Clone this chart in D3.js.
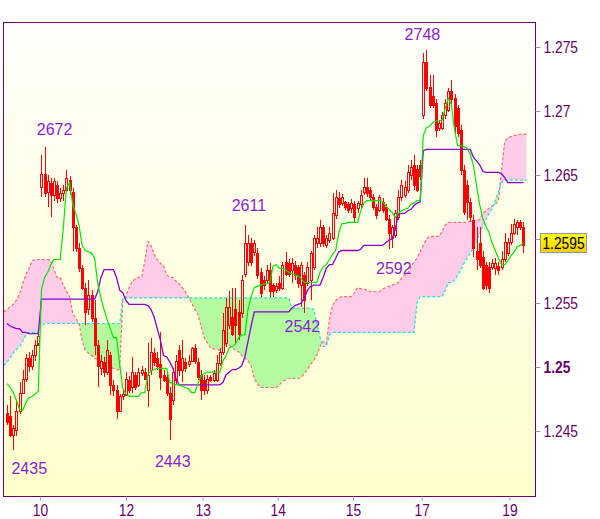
<!DOCTYPE html>
<html><head><meta charset="utf-8">
<script src="https://cdn.jsdelivr.net/npm/d3@7"></script>
<style>
html,body{margin:0;padding:0;background:#fff;}
svg{display:block;font-family:"Liberation Sans",Arial,sans-serif;}
</style></head><body>
<svg id="chart" width="600" height="519"></svg>
<script>
// ---------------- DATA ----------------
const open = [
1.2464,1.2462,1.2447,1.2451,1.2466,1.2480,1.2491,1.2507,1.2501,1.2509,
1.2517,1.2641,1.2651,1.2637,1.2644,1.2634,1.2642,1.2632,1.2636,1.2638,
1.2646,1.2637,1.2609,1.2593,1.2577,1.2562,1.2545,1.2556,1.2538,1.2517,
1.2499,1.2504,1.2496,1.2509,1.2486,1.2482,1.2466,1.2477,1.2478,1.2490,
1.2484,1.2494,1.2486,1.2495,1.2496,1.2482,1.2498,1.2511,1.2507,1.2502,
1.2494,1.2492,1.2480,1.2474,1.2490,1.2513,1.2498,1.2504,1.2502,1.2505,
1.2515,1.2504,1.2494,1.2490,1.2482,1.2492,1.2490,1.2490,1.2503,1.2512,
1.2519,1.2533,1.2539,1.2545,1.2543,1.2542,1.2573,1.2582,1.2597,1.2590,
1.2589,1.2574,1.2568,1.2568,1.2576,1.2564,1.2560,1.2566,1.2562,1.2582,
1.2581,1.2576,1.2580,1.2578,1.2564,1.2572,1.2566,1.2568,1.2578,1.2597,
1.2597,1.2609,1.2595,1.2599,1.2601,1.2619,1.2632,1.2628,1.2629,1.2627,
1.2624,1.2627,1.2624,1.2627,1.2637,1.2641,1.2638,1.2633,1.2625,1.2623,
1.2629,1.2625,1.2616,1.2601,1.2603,1.2617,1.2633,1.2634,1.2638,1.2650,
1.2658,1.2655,1.2658,1.2697,1.2738,1.2719,1.2712,1.2706,1.2687,1.2687,
1.2697,1.2701,1.2716,1.2710,1.2702,1.2685,1.2654,1.2642,1.2629,1.2615,
1.2591,1.2597,1.2586,1.2580,1.2578,1.2578,1.2577,1.2579,1.2578,1.2584,
1.2589,1.2598,1.2605,1.2609,1.2613,1.2609];
const high = [
1.2470,1.2477,1.2455,1.2474,1.2488,1.2498,1.2510,1.2512,1.2513,1.2521,
1.2529,1.2666,1.2672,1.2650,1.2648,1.2648,1.2645,1.2640,1.2642,1.2654,
1.2649,1.2640,1.2611,1.2597,1.2580,1.2566,1.2568,1.2560,1.2552,1.2521,
1.2509,1.2508,1.2521,1.2512,1.2490,1.2486,1.2479,1.2482,1.2496,1.2493,
1.2508,1.2496,1.2499,1.2501,1.2499,1.2519,1.2523,1.2515,1.2512,1.2527,
1.2498,1.2496,1.2484,1.2499,1.2509,1.2517,1.2521,1.2507,1.2509,1.2516,
1.2518,1.2507,1.2498,1.2494,1.2494,1.2494,1.2498,1.2509,1.2515,1.2542,
1.2554,1.2559,1.2562,1.2562,1.2552,1.2572,1.2611,1.2603,1.2601,1.2599,
1.2593,1.2577,1.2571,1.2580,1.2581,1.2566,1.2566,1.2571,1.2582,1.2590,
1.2584,1.2585,1.2583,1.2580,1.2582,1.2574,1.2582,1.2591,1.2603,1.2609,
1.2615,1.2611,1.2603,1.2609,1.2636,1.2638,1.2637,1.2635,1.2630,1.2629,
1.2631,1.2630,1.2630,1.2638,1.2648,1.2648,1.2641,1.2635,1.2627,1.2634,
1.2632,1.2627,1.2619,1.2611,1.2623,1.2638,1.2646,1.2645,1.2658,1.2662,
1.2666,1.2658,1.2662,1.2745,1.2748,1.2728,1.2728,1.2709,1.2693,1.2699,
1.2709,1.2718,1.2724,1.2713,1.2705,1.2689,1.2658,1.2646,1.2632,1.2619,
1.2609,1.2609,1.2591,1.2582,1.2582,1.2584,1.2585,1.2582,1.2591,1.2605,
1.2601,1.2612,1.2616,1.2615,1.2615,1.2613];
const low = [
1.2455,1.2445,1.2435,1.2446,1.2463,1.2479,1.2488,1.2496,1.2498,1.2505,
1.2519,1.2633,1.2633,1.2625,1.2617,1.2630,1.2628,1.2629,1.2630,1.2637,
1.2634,1.2591,1.2590,1.2574,1.2560,1.2533,1.2541,1.2535,1.2509,1.2484,
1.2494,1.2492,1.2494,1.2478,1.2477,1.2459,1.2465,1.2474,1.2477,1.2480,
1.2480,1.2482,1.2484,1.2493,1.2490,1.2469,1.2494,1.2501,1.2498,1.2482,
1.2488,1.2477,1.2443,1.2470,1.2487,1.2493,1.2488,1.2496,1.2500,1.2504,
1.2502,1.2490,1.2474,1.2478,1.2479,1.2488,1.2488,1.2488,1.2501,1.2509,
1.2516,1.2530,1.2524,1.2519,1.2521,1.2538,1.2570,1.2579,1.2579,1.2587,
1.2569,1.2555,1.2560,1.2565,1.2555,1.2555,1.2558,1.2559,1.2560,1.2571,
1.2570,1.2566,1.2568,1.2562,1.2547,1.2542,1.2563,1.2552,1.2576,1.2593,
1.2594,1.2594,1.2593,1.2597,1.2599,1.2616,1.2624,1.2626,1.2623,1.2620,
1.2620,1.2613,1.2620,1.2624,1.2634,1.2633,1.2630,1.2623,1.2616,1.2621,
1.2620,1.2614,1.2592,1.2593,1.2601,1.2615,1.2630,1.2632,1.2636,1.2646,
1.2638,1.2637,1.2646,1.2694,1.2716,1.2702,1.2702,1.2680,1.2684,1.2685,
1.2694,1.2699,1.2705,1.2683,1.2680,1.2650,1.2619,1.2615,1.2613,1.2586,
1.2576,1.2577,1.2560,1.2560,1.2558,1.2576,1.2572,1.2572,1.2576,1.2582,
1.2587,1.2595,1.2603,1.2603,1.2607,1.2589];
const close = [
1.2457,1.2447,1.2452,1.2466,1.2480,1.2491,1.2507,1.2501,1.2509,1.2517,
1.2524,1.2651,1.2636,1.2645,1.2634,1.2645,1.2632,1.2636,1.2638,1.2648,
1.2638,1.2609,1.2593,1.2577,1.2562,1.2543,1.2556,1.2538,1.2517,1.2501,
1.2505,1.2496,1.2513,1.2486,1.2482,1.2466,1.2477,1.2479,1.2491,1.2482,
1.2496,1.2484,1.2496,1.2498,1.2491,1.2494,1.2512,1.2504,1.2501,1.2492,
1.2490,1.2480,1.2459,1.2496,1.2505,1.2498,1.2507,1.2499,1.2505,1.2515,
1.2505,1.2492,1.2482,1.2482,1.2491,1.2490,1.2495,1.2503,1.2512,1.2529,
1.2547,1.2547,1.2526,1.2533,1.2526,1.2568,1.2597,1.2597,1.2582,1.2597,
1.2572,1.2558,1.2564,1.2576,1.2559,1.2559,1.2563,1.2562,1.2580,1.2573,
1.2573,1.2581,1.2572,1.2566,1.2580,1.2552,1.2578,1.2589,1.2601,1.2601,
1.2609,1.2597,1.2601,1.2605,1.2620,1.2633,1.2627,1.2633,1.2625,1.2623,
1.2628,1.2617,1.2628,1.2634,1.2641,1.2636,1.2633,1.2625,1.2619,1.2633,
1.2623,1.2616,1.2605,1.2609,1.2620,1.2633,1.2642,1.2641,1.2652,1.2656,
1.2642,1.2638,1.2649,1.2738,1.2718,1.2705,1.2705,1.2685,1.2691,1.2697,
1.2706,1.2716,1.2709,1.2688,1.2683,1.2654,1.2621,1.2629,1.2617,1.2593,
1.2584,1.2580,1.2562,1.2564,1.2562,1.2581,1.2581,1.2576,1.2584,1.2598,
1.2598,1.2605,1.2612,1.2613,1.2609,1.2595];
const tenkan = [
1.2487,1.2484,1.2480,1.2474,1.2467,1.2466,1.2472,1.2476,1.2477,1.2479,
1.2481,1.2560,1.2570,1.2574,1.2580,1.2584,1.2584,1.2584,1.2609,1.2640,
1.2644,1.2627,1.2620,1.2611,1.2595,1.2591,1.2590,1.2589,1.2585,1.2565,
1.2554,1.2545,1.2537,1.2530,1.2523,1.2523,1.2502,1.2483,1.2479,1.2477,
1.2477,1.2477,1.2477,1.2480,1.2480,1.2494,1.2497,1.2498,1.2499,1.2499,
1.2499,1.2499,1.2488,1.2487,1.2486,1.2486,1.2485,1.2484,1.2483,1.2480,
1.2480,1.2487,1.2493,1.2495,1.2496,1.2496,1.2496,1.2496,1.2496,1.2505,
1.2509,1.2515,1.2516,1.2518,1.2523,1.2525,1.2525,1.2545,1.2555,1.2562,
1.2563,1.2564,1.2565,1.2565,1.2566,1.2579,1.2580,1.2577,1.2577,1.2576,
1.2574,1.2573,1.2572,1.2571,1.2569,1.2566,1.2566,1.2566,1.2566,1.2566,
1.2574,1.2578,1.2580,1.2584,1.2588,1.2591,1.2605,1.2612,1.2612,1.2613,
1.2613,1.2613,1.2613,1.2622,1.2628,1.2630,1.2630,1.2630,1.2630,1.2630,
1.2629,1.2626,1.2623,1.2621,1.2617,1.2620,1.2622,1.2623,1.2624,1.2627,
1.2628,1.2630,1.2630,1.2681,1.2687,1.2688,1.2691,1.2692,1.2692,1.2693,
1.2702,1.2710,1.2705,1.2685,1.2673,1.2673,1.2672,1.2671,1.2666,1.2658,
1.2642,1.2627,1.2616,1.2610,1.2605,1.2597,1.2591,1.2585,1.2580,1.2580,
1.2583,1.2587,1.2590,1.2594,1.2595,1.2597];
const kijun = [
1.2534,1.2532,1.2531,1.2530,1.2530,1.2527,1.2527,1.2526,1.2526,1.2526,
1.2526,1.2553,1.2553,1.2553,1.2553,1.2553,1.2553,1.2553,1.2553,1.2553,
1.2553,1.2553,1.2553,1.2553,1.2553,1.2553,1.2553,1.2553,1.2553,1.2559,
1.2570,1.2576,1.2576,1.2576,1.2576,1.2570,1.2560,1.2558,1.2552,1.2549,
1.2549,1.2549,1.2549,1.2549,1.2549,1.2548,1.2545,1.2539,1.2530,1.2521,
1.2509,1.2508,1.2504,1.2499,1.2491,1.2486,1.2486,1.2486,1.2486,1.2486,
1.2486,1.2486,1.2486,1.2486,1.2486,1.2486,1.2486,1.2486,1.2486,1.2488,
1.2494,1.2496,1.2498,1.2498,1.2499,1.2501,1.2508,1.2520,1.2532,1.2543,
1.2543,1.2543,1.2543,1.2543,1.2543,1.2543,1.2543,1.2543,1.2543,1.2543,
1.2543,1.2546,1.2548,1.2549,1.2550,1.2554,1.2560,1.2563,1.2564,1.2564,
1.2564,1.2570,1.2577,1.2580,1.2580,1.2585,1.2590,1.2591,1.2591,1.2591,
1.2591,1.2591,1.2591,1.2592,1.2595,1.2595,1.2595,1.2595,1.2595,1.2595,
1.2595,1.2597,1.2599,1.2600,1.2607,1.2619,1.2620,1.2620,1.2622,1.2623,
1.2626,1.2628,1.2629,1.2669,1.2670,1.2670,1.2670,1.2670,1.2670,1.2670,
1.2670,1.2670,1.2670,1.2670,1.2670,1.2670,1.2670,1.2670,1.2670,1.2664,
1.2661,1.2658,1.2653,1.2652,1.2652,1.2652,1.2652,1.2652,1.2651,1.2648,
1.2644,1.2644,1.2644,1.2644,1.2644,1.2644];
// cloud spans (displaced forward): first value belongs to bar index spanStart
const spanStart = -1;
const spanA = [
1.2543,1.2545,1.2547,1.2549,1.2552,1.2557,1.2565,1.2572,1.2577,1.2583,
1.2584,1.2584,1.2584,1.2584,1.2584,1.2583,1.2576,1.2570,1.2570,1.2564,
1.2559,1.2555,1.2542,1.2538,1.2534,1.2521,1.2513,1.2511,1.2509,1.2507,
1.2506,1.2505,1.2503,1.2502,1.2500,1.2499,1.2498,1.2498,1.2552,1.2556,
1.2562,1.2567,1.2569,1.2570,1.2570,1.2582,1.2598,1.2595,1.2588,1.2584,
1.2581,1.2579,1.2572,1.2570,1.2570,1.2567,1.2565,1.2562,1.2559,1.2554,
1.2550,1.2545,1.2541,1.2532,1.2523,1.2519,1.2515,1.2514,1.2514,1.2513,
1.2516,1.2518,1.2517,1.2515,1.2513,1.2512,1.2509,1.2507,1.2505,1.2501,
1.2491,1.2487,1.2484,1.2484,1.2484,1.2484,1.2484,1.2484,1.2486,1.2489,
1.2490,1.2491,1.2491,1.2491,1.2491,1.2492,1.2495,1.2498,1.2502,1.2505,
1.2509,1.2516,1.2520,1.2518,1.2537,1.2548,1.2552,1.2554,1.2555,1.2555,
1.2555,1.2555,1.2558,1.2562,1.2561,1.2561,1.2560,1.2559,1.2559,1.2559,
1.2559,1.2561,1.2562,1.2563,1.2564,1.2565,1.2566,1.2569,1.2572,1.2573,
1.2578,1.2582,1.2585,1.2590,1.2595,1.2600,1.2602,1.2602,1.2602,1.2602,
1.2606,1.2611,1.2613,1.2613,1.2613,1.2613,1.2613,1.2613,1.2613,1.2614,
1.2614,1.2615,1.2615,1.2620,1.2622,1.2624,1.2626,1.2627,1.2630,1.2654,
1.2676,1.2679,1.2680,1.2681,1.2681,1.2682,1.2682,1.2682];
const spanB = [
1.2501,1.2504,1.2507,1.2511,1.2514,1.2516,1.2520,1.2525,1.2527,1.2527,
1.2527,1.2527,1.2532,1.2534,1.2534,1.2534,1.2534,1.2534,1.2534,1.2534,
1.2534,1.2534,1.2534,1.2534,1.2534,1.2534,1.2534,1.2534,1.2534,1.2534,
1.2534,1.2534,1.2534,1.2534,1.2534,1.2534,1.2534,1.2534,1.2554,1.2554,
1.2554,1.2554,1.2554,1.2554,1.2554,1.2554,1.2554,1.2554,1.2554,1.2554,
1.2554,1.2554,1.2554,1.2554,1.2554,1.2554,1.2554,1.2554,1.2554,1.2554,
1.2554,1.2554,1.2554,1.2554,1.2554,1.2554,1.2554,1.2554,1.2554,1.2554,
1.2554,1.2554,1.2554,1.2554,1.2554,1.2554,1.2554,1.2554,1.2554,1.2554,
1.2554,1.2554,1.2554,1.2554,1.2554,1.2554,1.2554,1.2554,1.2554,1.2554,
1.2554,1.2554,1.2546,1.2546,1.2546,1.2546,1.2546,1.2546,1.2546,1.2545,
1.2534,1.2523,1.2516,1.2516,1.2525,1.2527,1.2527,1.2527,1.2527,1.2527,
1.2527,1.2527,1.2527,1.2527,1.2527,1.2527,1.2527,1.2527,1.2527,1.2527,
1.2527,1.2527,1.2527,1.2527,1.2527,1.2527,1.2527,1.2527,1.2527,1.2527,
1.2527,1.2527,1.2550,1.2555,1.2555,1.2555,1.2555,1.2555,1.2555,1.2555,
1.2555,1.2560,1.2566,1.2566,1.2568,1.2572,1.2576,1.2581,1.2585,1.2589,
1.2593,1.2598,1.2604,1.2610,1.2615,1.2620,1.2624,1.2630,1.2637,1.2644,
1.2646,1.2646,1.2646,1.2646,1.2646,1.2646,1.2646,1.2646];
const dayTicks  = [10.5, 38, 62.5, 86.5, 110.5, 132.5, 160.5];   // bar index where each day begins
const dayLabels = ["10","12","13","14","15","17","19"];
const priceTicks = [1.245,1.25,1.255,1.26,1.265,1.27,1.275];
const swingBars   = [2, 12, 52, 76, 95, 122, 134];
const swingValues = [1.2435, 1.2672, 1.2443, 1.2611, 1.2542, 1.2592, 1.2748];
const swingTexts  = ["2435","2672","2443","2611","2542","2592","2748"];
const lastPrice = 1.2595;

// ---------------- LAYOUT ----------------
const plot = {left:3, top:22, right:535, bottom:496};
const swingOffsets = [[16,24],[10,-12],[3,27],[4,-14],[-2,19],[5,25],[-4,-10]];
const narrow = 0.86;   // axis font is narrower than Arial

const svg = d3.select('#chart');
const defs = svg.append('defs');
const bg = defs.append('linearGradient').attr('id','bg').attr('x1',0).attr('y1',0).attr('x2',0).attr('y2',1);
bg.append('stop').attr('offset','0%').attr('stop-color','#fffffb');
bg.append('stop').attr('offset','100%').attr('stop-color','#ffffcc');
const pg = defs.append('linearGradient').attr('id','pbox').attr('x1',0).attr('y1',0).attr('x2',0).attr('y2',1);
pg.append('stop').attr('offset','0%').attr('stop-color','#ffff10');
pg.append('stop').attr('offset','100%').attr('stop-color','#ffcc00');
defs.append('clipPath').attr('id','clip').append('rect')
  .attr('x',plot.left).attr('y',plot.top).attr('width',plot.right-plot.left).attr('height',plot.bottom-plot.top);

const x = d3.scaleLinear().domain([0, open.length-1]).range([7, 523.45]);
const y = d3.scaleLinear().domain([1.245, 1.275]).range([431, 47]);

svg.append('rect').attr('x',plot.left).attr('y',plot.top)
  .attr('width',plot.right-plot.left).attr('height',plot.bottom-plot.top).attr('fill','url(#bg)');

const g = svg.append('g').attr('clip-path','url(#clip)');

// cloud
const cloud = spanA.map((a,k)=>({i:k+spanStart, a:a, b:spanB[k]}));
defs.append('clipPath').attr('id','abovePink').append('path')
  .attr('d', d3.area().x(d=>x(d.i)).y0(plot.top).y1(d=>y(d.b))(cloud));
defs.append('clipPath').attr('id','belowGreen').append('path')
  .attr('d', d3.area().x(d=>x(d.i)).y0(plot.bottom).y1(d=>y(d.b))(cloud));
const between = d3.area().x(d=>x(d.i)).y0(d=>y(d.b)).y1(d=>y(d.a));
g.append('path').attr('d',between(cloud)).attr('fill','#ffccea').attr('clip-path','url(#abovePink)');
g.append('path').attr('d',between(cloud)).attr('fill','#b4fca0').attr('clip-path','url(#belowGreen)');
g.append('path').attr('d',d3.line().x(d=>x(d.i)).y(d=>y(d.a))(cloud))
  .attr('fill','none').attr('stroke','#ff6c6c').attr('stroke-width',1.2).attr('stroke-dasharray','3,2');
g.append('path').attr('d',d3.line().x(d=>x(d.i)).y(d=>y(d.b))(cloud))
  .attr('fill','none').attr('stroke','#22dede').attr('stroke-width',1.2).attr('stroke-dasharray','3,2');

// candles
const bars = open.map((o,i)=>({i, o, h:high[i], l:low[i], c:close[i]}));
const cg = g.append('g').selectAll('g').data(bars).join('g');
cg.each(function(d){
  const s = d3.select(this);
  const xc = Math.round(x(d.i));
  const yt = Math.round(y(Math.max(d.o,d.c))), yb = Math.round(y(Math.min(d.o,d.c)));
  const yh = Math.round(y(d.h)), yl = Math.round(y(d.l));
  s.append('line').attr('x1',xc+0.5).attr('x2',xc+0.5).attr('y1',yh).attr('y2',yt).attr('stroke','#ff0000');
  s.append('line').attr('x1',xc+0.5).attr('x2',xc+0.5).attr('y1',yb).attr('y2',yl).attr('stroke','#ff0000');
  if (d.c >= d.o) {
    s.append('rect').attr('x',xc-0.5).attr('y',yt+0.5).attr('width',2).attr('height',Math.max(yb-yt,1))
      .attr('fill','none').attr('stroke','#ff0000');
  } else {
    s.append('rect').attr('x',xc-1).attr('y',yt).attr('width',3).attr('height',Math.max(yb-yt,1)+1)
      .attr('fill','#ff0000');
  }
});

// tenkan / kijun
const lineGen = d3.line().x((d,i)=>x(i)).y(d=>y(d));
g.append('path').attr('d',lineGen(kijun)).attr('fill','none').attr('stroke','#8a00d0').attr('stroke-width',1.3);
g.append('path').attr('d',lineGen(tenkan)).attr('fill','none').attr('stroke','#00e600').attr('stroke-width',1.2);

// swing labels
svg.append('g').selectAll('text').data(swingTexts).join('text')
  .attr('x',(d,k)=>x(swingBars[k])+swingOffsets[k][0])
  .attr('y',(d,k)=>y(swingValues[k])+swingOffsets[k][1])
  .attr('text-anchor','middle').attr('font-size',16).attr('fill','#8a1ed6')
  .text(d=>d);

// border
svg.append('rect').attr('x',plot.left+0.5).attr('y',plot.top+0.5)
  .attr('width',plot.right-plot.left).attr('height',plot.bottom-plot.top)
  .attr('fill','none').attr('stroke','#660066');

function squeeze(sel, f){
  sel.each(function(){
    const w = this.getComputedTextLength();
    d3.select(this).attr('textLength', w*f).attr('lengthAdjust','spacingAndGlyphs');
  });
}

// right axis
const fmt = v => String(+v.toFixed(3));
const ya = svg.append('g').attr('transform',`translate(${plot.right+0.5},0)`)
  .call(d3.axisRight(y).tickValues(priceTicks).tickSize(5).tickPadding(3).tickFormat(fmt));
ya.select('.domain').remove();
ya.selectAll('.tick line').attr('stroke','#9a9a9a');
ya.selectAll('.tick text').attr('fill','#660066').attr('font-size',16)
  .attr('font-family','"Liberation Sans",Arial,sans-serif')
  .attr('font-weight',d=>d===1.25?'bold':'normal');
squeeze(ya.selectAll('.tick text'), narrow);

// bottom axis
const xa = svg.append('g').attr('transform',`translate(0,${plot.bottom+0.5})`)
  .call(d3.axisBottom(x).tickValues(dayTicks).tickSize(4).tickPadding(4).tickFormat((d,i)=>dayLabels[i]));
xa.select('.domain').remove();
xa.selectAll('.tick line').attr('stroke','#9a9a9a');
xa.selectAll('.tick text').attr('fill','#660066').attr('font-size',16)
  .attr('font-family','"Liberation Sans",Arial,sans-serif');
squeeze(xa.selectAll('.tick text'), narrow);

// last price box
const ly = Math.round(y(lastPrice));
svg.append('rect').attr('x',540.5).attr('y',ly-11.5).attr('width',46).attr('height',19)
  .attr('fill','url(#pbox)').attr('stroke','#8899aa');
const pt = svg.append('text').attr('x',563.5).attr('y',ly-2).attr('dy','0.35em').attr('text-anchor','middle')
  .attr('font-size',16).attr('fill','#000').text(lastPrice.toFixed(4));
squeeze(pt, narrow);
</script>
</body></html>
